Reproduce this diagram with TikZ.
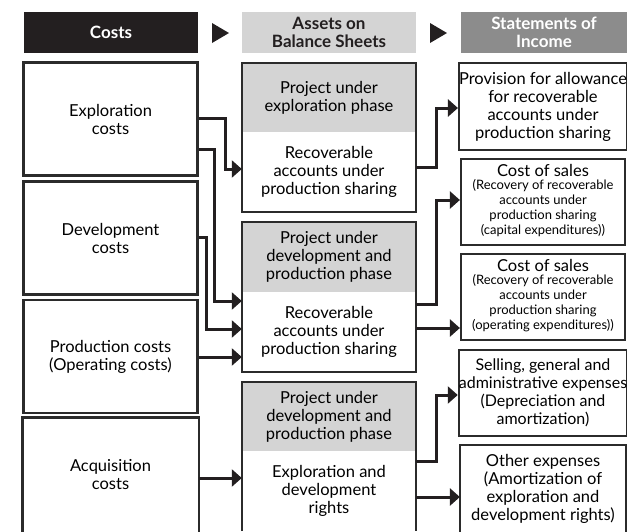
\documentclass[tikz,border=0pt]{standalone}
\usepackage{fontspec}
\setmainfont{Lato}
\usetikzlibrary{arrows.meta}
\definecolor{ink}{HTML}{231F20}
\definecolor{boxline}{HTML}{2B2B2B}
\definecolor{lightgrey}{HTML}{D4D4D4}
\definecolor{midgrey}{HTML}{8C8C8C}
\newcommand\smalltxt{\fontsize{13}{15}\selectfont}
\begin{document}
\begin{tikzpicture}[x=1pt,y=-1pt,
  head/.style={align=center,inner sep=0pt,minimum width=174pt,minimum height=41pt,font=\bfseries\fontsize{17}{18}\selectfont},
  box/.style={draw=boxline,line width=2.2pt,align=center,inner sep=0pt,font=\fontsize{16.5}{18}\selectfont},
  cost/.style={box,minimum width=174pt,minimum height=113pt},
  phase/.style={fill=lightgrey,align=center,inner sep=0pt,minimum width=174pt,font=\fontsize{16.5}{18}\selectfont},
  account/.style={fill=white,align=center,inner sep=0pt,minimum width=174pt,minimum height=80pt,font=\fontsize{16.5}{18}\selectfont},
  income/.style={box,minimum width=164pt,minimum height=86pt},
  frame/.style={draw=boxline,line width=2.2pt},
  link/.style={draw=ink,line width=3pt,-{Triangle[length=10pt,width=17pt]}}]
\useasboundingbox (0,0) rectangle (627,531);
\node[head,fill=ink,text=white] (hcost) at (111,32.5) {Costs};
\node[head,fill=lightgrey,text=ink] (hasset) at (329,32.5) {Assets on\\Balance Sheets};
\node[head,fill=midgrey,text=white,minimum width=166pt] (hincome) at (544,32.5) {Statements of\\Income};
\fill[ink] (212,23) -- (229,33) -- (212,43) -- cycle;
\fill[ink] (430,23) -- (447,33) -- (430,43) -- cycle;
\node[cost] (expl) at (110.5,119) {Exploration\\costs};
\node[cost] (devel) at (110.5,238) {Development\\costs};
\node[cost] (prod) at (110.5,356.5) {Production costs\\(Operating costs)};
\node[cost,draw=none] (acq) at (110.5,475) {Acquisition\\costs};
\draw[frame] (acq.south west) -- (acq.north west) -- (acq.north east) -- (acq.south east);
\node[phase,minimum height=69pt] (proj1) at (329,97.5) {Project under\\exploration phase};
\node[account] (recv1) at (329,172) {Recoverable\\accounts under\\production sharing};
\draw[frame] (proj1.north west) rectangle (recv1.south east);
\node[phase,minimum height=70pt] (proj2) at (329,257) {Project under\\development and\\production phase};
\node[account] (recv2) at (329,332) {Recoverable\\accounts under\\production sharing};
\draw[frame] (proj2.north west) rectangle (recv2.south east);
\node[phase,minimum height=69pt] (proj3) at (329,416.5) {Project under\\development and\\production phase};
\node[account] (recv3) at (329,491) {Exploration and\\development\\rights};
\draw[frame] (recv3.south west) -- (proj3.north west) -- (proj3.north east) -- (recv3.south east);
\node[income,minimum height=87pt] (prov) at (543,106.5) {Provision for allowance\\for recoverable\\accounts under\\production sharing};
\node[income] (capex) at (543,202) {Cost of sales\\[-5pt]{\smalltxt\begin{tabular}[t]{@{}c@{}}(Recovery of recoverable\\accounts under\\production sharing\\(capital expenditures))\end{tabular}}};
\node[income] (opex) at (543,297) {Cost of sales\\[-5pt]{\smalltxt\begin{tabular}[t]{@{}c@{}}(Recovery of recoverable\\accounts under\\production sharing\\(operating expenditures))\end{tabular}}};
\node[income,font=\fontsize{16}{18}\selectfont] (sga) at (543,393) {Selling, general and\\administrative expenses\\(Depreciation and\\amortization)};
\node[income,draw=none,minimum height=85pt] (other) at (543,488.5) {Other expenses\\(Amortization of\\exploration and\\development rights)};
\draw[frame] (other.south west) -- (other.north west) -- (other.north east) -- (other.south east);
\draw[link] (expl.east |- 0,118) -| (225,169) -- (recv1.west |- 0,169);
\draw[link] (expl.east |- 0,149) -| (214,301) -- (recv2.west |- 0,301);
\draw[link] (devel.east |- 0,237) -| (206,329) -- (recv2.west |- 0,329);
\draw[link] (prod.east |- 0,357) -- (recv2.west |- 0,357);
\draw[link] (acq.east |- 0,478) -- (recv3.west |- 0,478);
\draw[link] (recv1.east |- 0,167) -| (436,108) -- (prov.west |- 0,108);
\draw[link] (recv2.east |- 0,304) -| (436,200) -- (capex.west |- 0,200);
\draw[link] (recv2.east |- 0,328) -- (opex.west |- 0,328);
\draw[link] (recv3.east |- 0,461) -| (436,395) -- (sga.west |- 0,395);
\draw[link] (recv3.east |- 0,497) -- (other.west |- 0,497);
\end{tikzpicture}
\end{document}
